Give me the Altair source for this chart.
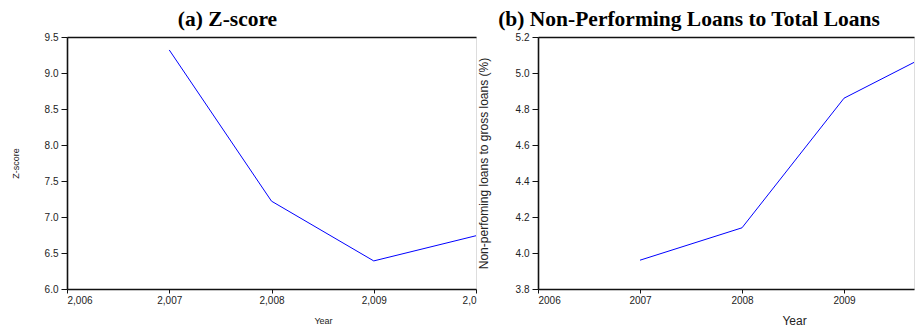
import altair as alt
import pandas as pd

years = [2007, 2008, 2009, 2010]
zscore = [9.32, 7.22, 6.39, 6.74]
npl = [3.96, 4.14, 4.86, 5.15]

z_ticks = [6.0, 6.5, 7.0, 7.5, 8.0, 8.5, 9.0, 9.5]
npl_ticks = [3.8, 4.0, 4.2, 4.4, 4.6, 4.8, 5.0, 5.2]
year_ticks_a = [2006, 2007, 2008, 2009, 2010]
year_ticks_b = [2006, 2007, 2008, 2009]

df_a = pd.DataFrame({"Year": years, "Z": zscore})
df_b = pd.DataFrame({"Year": years, "NPL": npl})

LF = "Liberation Sans"
TF = "Liberation Serif"

xs_a = alt.Scale(domain=[2006, 2010], nice=False, zero=False)
xs_b = alt.Scale(domain=[2006, 2009.686], nice=False, zero=False)

common_axis = dict(labelFont=LF, titleFont=LF, labelColor="#222", titleColor="#222",
                   domainColor="#111", domainWidth=1.6, tickColor="#111", grid=False,
                   titleFontWeight="normal")

top_axis = dict(orient="top", labels=False, ticks=False, title=None, domainColor="#111",
                domainWidth=1.6, minExtent=0, maxExtent=0, offset=0)

line_a = alt.Chart(df_a).mark_line(color="#0000ff", strokeWidth=1, clip=True).encode(
    x=alt.X("Year:Q", scale=xs_a,
            axis=alt.Axis(values=year_ticks_a,
                          labelExpr="datum.value == 2010 ? '2,0' : format(datum.value, ',')",
                          title="Year", titleFontSize=9, titleX=256, titleY=34,
                          titleBaseline="alphabetic", labelFontSize=10, tickSize=4,
                          labelPadding=2, **common_axis)),
    y=alt.Y("Z:Q", scale=alt.Scale(domain=[6.0, 9.5], nice=False, zero=False),
            axis=alt.Axis(values=z_ticks, format=".1f", title="Z-score", titleFontSize=9,
                          labelFontSize=10, tickSize=6, labelPadding=3, titlePadding=24,
                          **common_axis)),
)
top_a = alt.Chart(df_a).mark_point(opacity=0, clip=True).encode(
    x=alt.X("Year:Q", scale=xs_a, axis=alt.Axis(**top_axis)),
)
panel_a = alt.layer(line_a, top_a).resolve_axis(x="independent").properties(
    width=409, height=252,
    title=alt.TitleParams("(a) Z-score", font=TF, fontSize=21.5, fontWeight="bold",
                          color="black", offset=2, dx=-44, anchor="middle"),
)

line_b = alt.Chart(df_b).mark_line(color="#0000ff", strokeWidth=1, clip=True).encode(
    x=alt.X("Year:Q", scale=xs_b,
            axis=alt.Axis(values=year_ticks_b, format="d", title="Year", titleFontSize=12,
                          titleX=256, titleY=35, titleBaseline="alphabetic",
                          labelFontSize=10, tickSize=4, labelPadding=2, **common_axis)),
    y=alt.Y("NPL:Q", scale=alt.Scale(domain=[3.8, 5.2], nice=False, zero=False),
            axis=alt.Axis(values=npl_ticks, format=".1f",
                          title="Non-perfoming loans to gross loans (%)", titleFontSize=12,
                          labelFontSize=10, tickSize=6, labelPadding=3, titlePadding=25,
                          **common_axis)),
)
top_b = alt.Chart(df_b).mark_point(opacity=0, clip=True).encode(
    x=alt.X("Year:Q", scale=xs_b, axis=alt.Axis(**top_axis)),
)
panel_b = alt.layer(line_b, top_b).resolve_axis(x="independent").properties(
    width=376, height=252,
    title=alt.TitleParams("(b) Non-Performing Loans to Total Loans", font=TF,
                          fontSize=21.5, fontWeight="bold", color="black", offset=2,
                          dx=-37, anchor="middle"),
)

chart = alt.hconcat(panel_a, panel_b, spacing=62, bounds="flush").properties(
    padding={"left": 2, "top": 0, "right": 0, "bottom": 0}
).configure_view(stroke=None).configure(background="white")

chart.save("out.html", embed_options={"renderer": "svg", "actions": False})
